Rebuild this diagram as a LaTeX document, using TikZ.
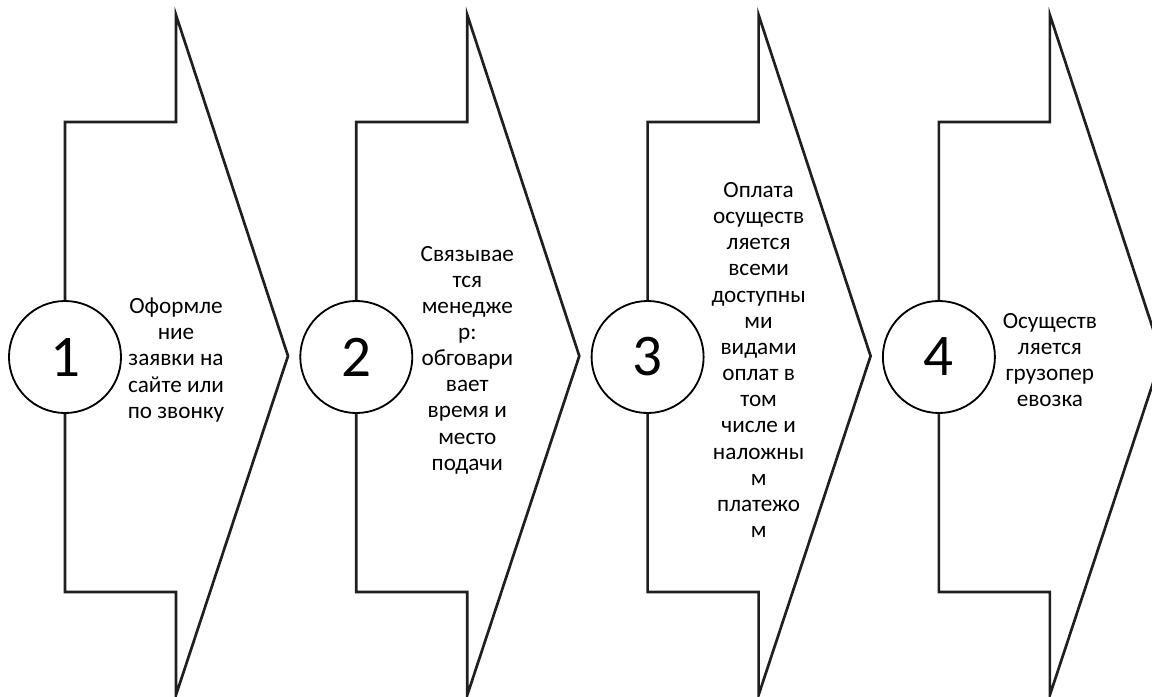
\documentclass[tikz,border=0pt]{standalone}
\usepackage{fontspec}
\setmainfont{Carlito}

\begin{document}
\begin{tikzpicture}[x=0.025cm,y=-0.025cm]
\tikzset{
  stagearrow/.style={draw=black!88,line width=1.9pt,line join=miter,fill=white},
  stepnum/.style={circle,draw,line width=1.3pt,fill=white,inner sep=0pt,
    minimum size=2.8cm,font=\fontsize{42}{48}\selectfont},
  steptext/.style={align=center,inner sep=0pt,font=\fontsize{16.5}{18.6}\selectfont}
}
\clip (0,0) rectangle (1152,697);
\foreach \i/\txt in {1/{Оформле\\ние\\заявки на\\сайте или\\по звонку},
  2/{Связывае\\тся\\менедже\\р:\\обговари\\вает\\время и\\место\\подачи},
  3/{Оплата\\осуществ\\ляется\\всеми\\доступны\\ми\\видами\\оплат в\\том\\числе и\\наложны\\м\\платежо\\м},
  4/{Осуществ\\ляется\\грузопер\\евозка}}{
  \pgfmathsetmacro{\xa}{65+291.3*(\i-1)}
  \draw[stagearrow] (\xa,122) -- (\xa+111,122) -- (\xa+111,15) -- (\xa+223,356)
    -- (\xa+111,695) -- (\xa+111,592) -- (\xa,592) -- cycle;
  \node[stepnum] (n\i) at (\xa,357) {\i};
  \node[steptext] (t\i) at (\xa+111,360) {\txt};
}
\end{tikzpicture}
\end{document}
